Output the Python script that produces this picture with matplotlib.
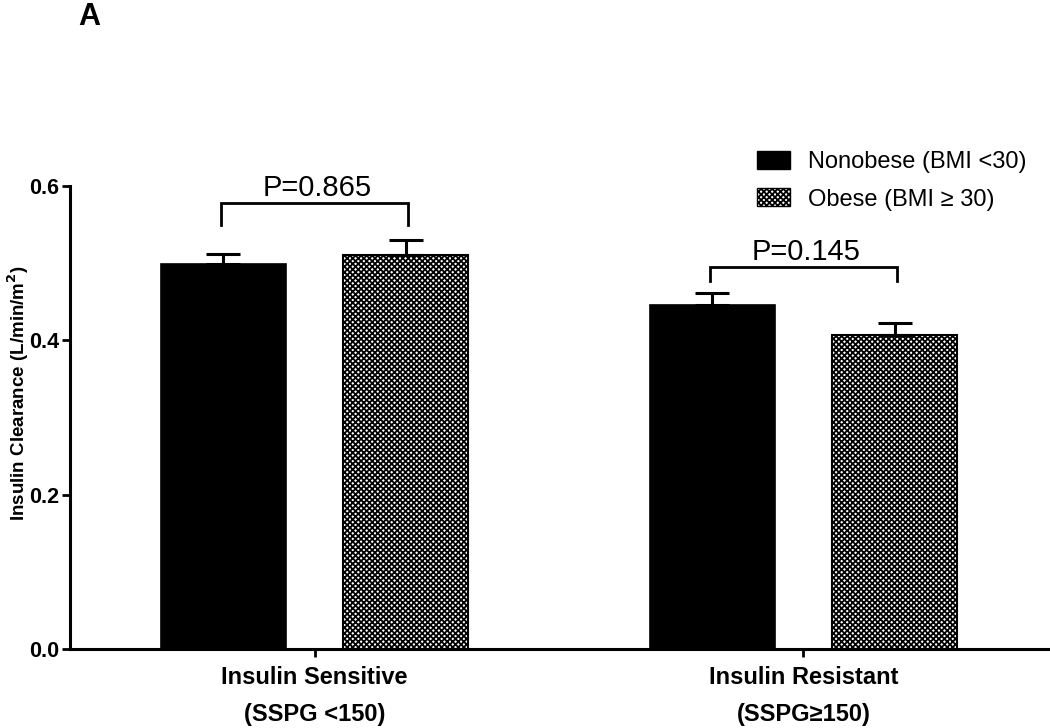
import matplotlib
matplotlib.use("Agg")
import matplotlib.pyplot as plt
from matplotlib.patches import Patch
import numpy as np

plt.rcParams['font.family'] = ['Liberation Sans', 'DejaVu Sans']
plt.rcParams['hatch.linewidth'] = 1.3

categories = ["Insulin Sensitive\n(SSPG <150)", "Insulin Resistant\n(SSPG\u2265150)"]
series_names = ["Nonobese (BMI <30)", "Obese (BMI \u2265 30)"]
nonobese = [0.499, 0.446]
nonobese_sem = [0.013, 0.015]
obese = [0.511, 0.407]
obese_sem = [0.019, 0.015]
pvalues = ["P=0.865", "P=0.145"]
bracket_top = [0.578, 0.495]
bracket_leg = [0.549, 0.477]
yticks = [0.0, 0.2, 0.4, 0.6]

HATCH = 'xxxxxx'

fig = plt.figure(figsize=(10.5, 7.28), dpi=100)
ax = fig.add_axes([0.0667, 0.1085, 0.9313, 0.636])

x = np.arange(len(categories))
off = 0.1865
w = 0.256

ax.bar(x - off, nonobese, w, color='black', edgecolor='black', linewidth=1.2, zorder=2)
ax.bar(x + off, obese, w, color='white', edgecolor='black', hatch=HATCH, linewidth=1.5, zorder=2)
ax.errorbar(x - off, nonobese, yerr=[np.zeros(2), nonobese_sem], fmt='none', ecolor='black',
            elinewidth=2.2, capsize=12, capthick=2.2, zorder=3)
ax.errorbar(x + off, obese, yerr=[np.zeros(2), obese_sem], fmt='none', ecolor='black',
            elinewidth=2.2, capsize=12, capthick=2.2, zorder=3)

boff = 0.192
for i in range(len(categories)):
    xl, xr = x[i] - boff, x[i] + boff
    ax.plot([xl, xl, xr, xr], [bracket_leg[i], bracket_top[i], bracket_top[i], bracket_leg[i]],
            color='black', lw=2, clip_on=False, solid_joinstyle='miter')
    ax.text(x[i] + 0.005, bracket_top[i] + 0.009, pvalues[i], ha='center', va='baseline', fontsize=21)

ax.set_xlim(-0.5, 1.5)
ax.set_ylim(0, 0.6)
ax.set_yticks(yticks)
ax.set_yticklabels([f"{t:.1f}" for t in yticks], fontsize=15.5, fontweight='bold')
ax.set_xticks(x)
ax.set_xticklabels(categories, fontsize=17, fontweight='bold', linespacing=1.8)
ax.tick_params(axis='both', width=2, length=6, direction='out', colors='black')
ax.tick_params(axis='y', pad=2)
ax.tick_params(axis='x', pad=6)
for s in ['top', 'right']:
    ax.spines[s].set_visible(False)
for s in ['left', 'bottom']:
    ax.spines[s].set_linewidth(2.2)

ax.set_ylabel("Insulin Clearance (L/min/m$\\mathbf{^2}$)", fontsize=13.5, fontweight='bold')
ax.yaxis.label.set_va('center')
ax.yaxis.set_label_coords((18 - 70) / 978, (649 - 393) / 463)

handles = [Patch(facecolor='black', edgecolor='black', label=series_names[0]),
           Patch(facecolor='white', edgecolor='black', hatch=HATCH, label=series_names[1])]
fig.legend(handles=handles, loc='upper left', bbox_to_anchor=(0.7005, 0.822), frameon=False,
           fontsize=17, handlelength=1.4, handleheight=0.8, handletextpad=0.76, labelspacing=0.65)

fig.text(0.085, 1 - 25 / 728, "A", fontsize=22, fontweight='bold', ha='center', va='baseline')

fig.savefig("out.png", dpi=100)
